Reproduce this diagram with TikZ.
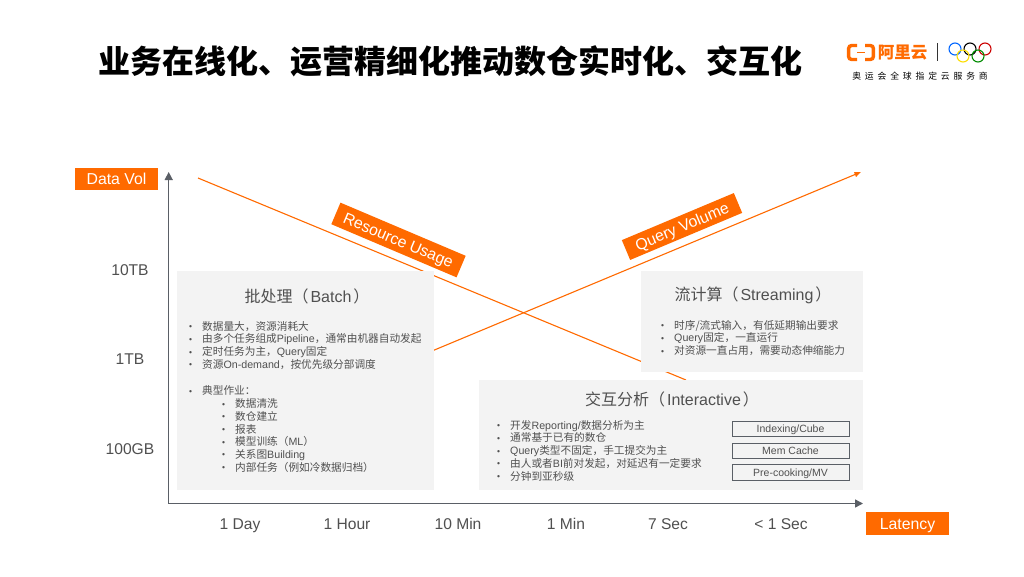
\documentclass[tikz,border=0pt]{standalone}
\usepackage{fontspec}
\setmainfont{Liberation Sans}
\newfontfamily\cjk{Noto Sans CJK SC}
\newfontfamily\cjkwide[LetterSpace=44]{Noto Sans CJK SC}
\usetikzlibrary{arrows.meta}
\definecolor{aliorange}{HTML}{FF6A00}
\definecolor{txtgray}{HTML}{505050}
\definecolor{axisgray}{HTML}{5A5F66}
\definecolor{panel}{HTML}{F3F3F3}
\newcommand{\cj}[1]{{\cjk #1}}
\newcommand{\bu}{\makebox[13pt][l]{\raisebox{0.5pt}{\fontsize{8.5}{8.5}\selectfont •}}}
\newcommand{\ttl}[2]{\cj{#1（}\hspace{2pt}#2\hspace{2pt}\cj{）}}
\tikzset{
  x=1pt,y=-1pt,
  panelbox/.style={fill=panel,draw=none,inner sep=0pt},
  axisline/.style={draw=axisgray,line width=1.4pt,-{Triangle[length=8pt,width=8pt]}},
  trend/.style={draw=aliorange,line width=1.1pt},
  tagbox/.style={fill=aliorange,text=white,font=\fontsize{15.8}{15.8}\selectfont,inner sep=0pt,align=center,text height=11.3pt,text depth=0pt},
  ticklabel/.style={text=txtgray,font=\fontsize{15.6}{15.6}\selectfont,inner sep=0pt,text height=11pt,text depth=0pt},
  paneltitle/.style={text=txtgray,font=\fontsize{16}{16}\selectfont,inner sep=0pt},
  bulletlist/.style={text=txtgray,anchor=north west,inner sep=0pt,align=left,font=\fontsize{10.67}{12.7}\selectfont},
  techbox/.style={draw=axisgray,line width=0.9pt,text=txtgray,minimum width=117pt,minimum height=15.5pt,inner sep=0pt,text height=7.6pt,text depth=0pt,font=\fontsize{10.5}{10.5}\selectfont},
  ring/.style={line width=1.1pt,radius=6pt},
}
\begin{document}
\begin{tikzpicture}
\useasboundingbox (0,0) rectangle (1024,576);
\fill[white] (0,0) rectangle (1024,576);

% title
\node[inner sep=0pt,text=black] (title) at (450.5,61) {\fontsize{32}{32}\selectfont\cjk\bfseries 业务在线化、运营精细化推动数仓实时化、交互化};

% logo
\draw[aliorange,line width=3.4pt,rounded corners=3pt] (857,45.5) -- (848.6,45.5) -- (848.6,59.5) -- (857,59.5);
\draw[aliorange,line width=3.4pt,rounded corners=3pt] (865,45.5) -- (873.4,45.5) -- (873.4,59.5) -- (865,59.5);
\draw[aliorange,line width=1.8pt] (857,52.5) -- (865,52.5);
\node[inner sep=0pt,text=aliorange] (logotext) at (902.5,52.5) {\fontsize{16.5}{16.5}\selectfont\cjk\bfseries 阿里云};
\draw[black!80,line width=0.8pt] (937,43) -- (937,61);
\draw[ring,draw=blue!60!cyan] (955,49) circle;
\draw[ring,draw=black] (970,49) circle;
\draw[ring,draw=red!80!black] (985,49) circle;
\draw[ring,draw=yellow!80!orange] (963,56) circle;
\draw[ring,draw=green!55!black] (978,56) circle;
\node[inner sep=0pt,text=black] (logosub) at (920,76) {\fontsize{8.8}{8.8}\selectfont\cjkwide 奥运会全球指定云服务商};

% trend lines (behind the panels)
\coordinate (resA) at (198,178);
\coordinate (resB) at (686,380);
\coordinate (qryA) at (420,356);
\coordinate (qryB) at (861,172);
\draw[trend] (resA) -- (resB);
\draw[trend,-{Triangle[length=6.5pt,width=5pt]}] (qryA) -- (qryB);

% panels
\node[panelbox,anchor=north west,minimum width=257pt,minimum height=219pt] (batch) at (177,271) {};
\node[panelbox,anchor=north west,minimum width=222pt,minimum height=100.5pt] (stream) at (641,271) {};
\node[panelbox,anchor=north west,minimum width=384pt,minimum height=110pt] (inter) at (479,380) {};

% rotated tags
\node[tagbox,rotate=-23,minimum width=136pt,minimum height=23.4pt] (resource) at (398.5,240) {Resource Usage};
\node[tagbox,rotate=22.8,minimum width=121.5pt,minimum height=21.5pt] (query) at (682,226.5) {Query Volume};

% axes
\coordinate (origin) at (168.7,503.5);
\coordinate (ytip) at (168.7,172);
\coordinate (xtip) at (863,503.5);
\draw[axisline] (origin) -- (ytip);
\draw[axisline] (origin) -- (xtip);

% axis tags
\node[tagbox,minimum width=83pt,minimum height=22pt] (datavol) at (116.5,179.3) {Data Vol};
\node[tagbox,minimum width=83pt,minimum height=23pt] (latency) at (907.5,523.5) {Latency};

% axis ticks
\node[ticklabel] (y1) at (130,270) {10TB};
\node[ticklabel] (y2) at (130,359) {1TB};
\node[ticklabel] (y3) at (130,449) {100GB};
\node[ticklabel] (x1) at (240,524) {1 Day};
\node[ticklabel] (x2) at (347,524) {1 Hour};
\node[ticklabel] (x3) at (458,524) {10 Min};
\node[ticklabel] (x4) at (566,524) {1 Min};
\node[ticklabel] (x5) at (668,524) {7 Sec};
\node[ticklabel] (x6) at (781,524) {< 1 Sec};

% batch panel
\node[paneltitle] (batchT) at (307,296) {\ttl{批处理}{Batch}};
\node[bulletlist] (batchL) at (189,321) {%
\bu\cj{数据量大，资源消耗大}\\
\bu\cj{由多个任务组成}Pipeline\cj{，通常由机器自动发起}\\
\bu\cj{定时任务为主，}Query\cj{固定}\\
\bu\cj{资源}On-demand\cj{，按优先级分部调度}};
\node[bulletlist] (batchJ) at (189,385.5) {\bu\cj{典型作业：}};
\node[bulletlist] (batchS) at (222,398.5) {%
\bu\cj{数据清洗}\\
\bu\cj{数仓建立}\\
\bu\cj{报表}\\
\bu\cj{模型训练（}ML\cj{）}\\
\bu\cj{关系图}Building\\
\bu\cj{内部任务（例如冷数据归档）}};

% streaming panel
\node[paneltitle] (streamT) at (753,295) {\ttl{流计算}{Streaming}};
\node[bulletlist] (streamL) at (661,320) {%
\bu\cj{时序/流式输入，有低延期输出要求}\\
\bu Query\cj{固定，一直运行}\\
\bu\cj{对资源一直占用，需要动态伸缩能力}};

% interactive panel
\node[paneltitle] (interT) at (672,399.5) {\ttl{交互分析}{Interactive}};
\node[bulletlist] (interL) at (497,420) {%
\bu\cj{开发}Reporting/\cj{数据分析为主}\\
\bu\cj{通常基于已有的数仓}\\
\bu Query\cj{类型不固定，手工提交为主}\\
\bu\cj{由人或者}BI\cj{前对发起，对延迟有一定要求}\\
\bu\cj{分钟到亚秒级}};
\node[techbox] (tech1) at (790.5,429) {Indexing/Cube};
\node[techbox] (tech2) at (790.5,451) {Mem Cache};
\node[techbox] (tech3) at (790.5,472.5) {Pre-cooking/MV};
\end{tikzpicture}
\end{document}
